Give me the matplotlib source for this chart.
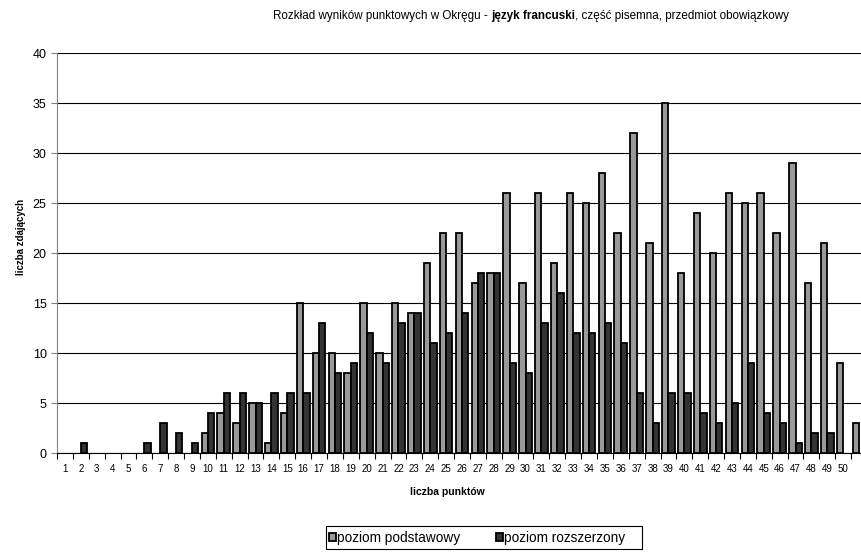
import matplotlib
matplotlib.use("Agg")
import matplotlib.pyplot as plt
from matplotlib.patches import Rectangle
import numpy as np

plt.rcParams['font.family'] = ['Liberation Sans', 'DejaVu Sans']

categories = list(range(1, 52))
tick_labels = [str(i) for i in range(1, 51)] + [""]
podstawowy = [0, 0, 0, 0, 0, 0, 0, 0, 0, 2,
              4, 3, 5, 1, 4, 15, 10, 10, 8, 15,
              10, 15, 14, 19, 22, 22, 17, 18, 26, 17,
              26, 19, 26, 25, 28, 22, 32, 21, 35, 18,
              24, 20, 26, 25, 26, 22, 29, 17, 21, 9,
              3]
rozszerzony = [0, 1, 0, 0, 0, 1, 3, 2, 1, 4,
               6, 6, 5, 6, 6, 6, 13, 8, 9, 12,
               9, 13, 14, 11, 12, 14, 18, 18, 9, 8,
               13, 16, 12, 12, 13, 11, 6, 3, 6, 6,
               4, 3, 5, 9, 4, 3, 1, 2, 2, 0,
               0]

W, H = 861, 557
fig = plt.figure(figsize=(W/100, H/100), dpi=100)
left, right, top, bottom = 57, 867, 53, 453
ax = fig.add_axes([left/W, 1 - bottom/H, (right-left)/W, (bottom-top)/H])

x = np.array(categories)
p = np.array(podstawowy, dtype=float)
r_ = np.array(rozszerzony, dtype=float)
p[p == 0] = np.nan
r_[r_ == 0] = np.nan
bw = 0.40
ax.bar(x - bw/2, p, width=bw, color='#999999', edgecolor='black', linewidth=1.3, label='poziom podstawowy', zorder=3)
ax.bar(x + bw/2, r_, width=bw, color='#333333', edgecolor='black', linewidth=1.3, label='poziom rozszerzony', zorder=3)

ax.set_xlim(0.5, 51.5)
ax.set_ylim(0, 40)
ax.set_yticks(np.arange(0, 41, 5))
ax.set_xticks(x)
ax.set_xticklabels(tick_labels, fontsize=7)
ax.set_xticks(np.arange(0.5, 52, 1), minor=True)
ax.tick_params(axis='x', which='major', length=0, pad=8)
ax.tick_params(axis='x', which='minor', length=4, direction='out', width=0.8)
ax.tick_params(axis='y', which='major', length=4, direction='out', labelsize=9, width=0.8, color='#808080')
ax.yaxis.grid(True, color='black', linewidth=0.8, zorder=0)
ax.set_axisbelow(True)
for s in ['top', 'right']:
    ax.spines[s].set_visible(False)
ax.spines['left'].set_color('#808080')
ax.spines['bottom'].set_color('black')

fig.text(21/W, 1 - 237/H, 'liczba zdających', rotation=90, fontsize=7, fontweight='bold', ha='center', va='center')
fig.text(447/W, 1 - 492/H, 'liczba punktów', fontsize=7.5, fontweight='bold', ha='center', va='center')

fs_t = 8.4
t1 = fig.text(273/W, 1 - 19/H, 'Rozkład wyników punktowych w Okręgu - ', fontsize=fs_t, ha='left', va='baseline')
t2 = fig.text(0, 0, 'język francuski', fontsize=fs_t, fontweight='bold')
fig.canvas.draw()
r = fig.canvas.get_renderer()
bb = t1.get_window_extent(r)
t2.set_position((bb.x1/W, 1 - 19/H))
t2.set_va('baseline')
bb2 = t2.get_window_extent(r)
fig.text(bb2.x1/W, 1 - 19/H, ', część pisemna, przedmiot obowiązkowy', fontsize=fs_t, ha='left', va='baseline')

# legend box
fig.patches.append(Rectangle((326/W, 1 - 549/H), (642-326)/W, (549-526)/H,
                             transform=fig.transFigure, facecolor='white', edgecolor='black',
                             linewidth=0.8, zorder=1))
leg = fig.legend(loc='center left', bbox_to_anchor=(329/W, 1 - 538/H), ncol=2, fontsize=9.8,
                 frameon=False, handlelength=0.55, handleheight=0.55,
                 handletextpad=0.05, columnspacing=2.6, borderpad=0, borderaxespad=0)
leg.set_zorder(2)

fig.savefig('out.png', dpi=100)
